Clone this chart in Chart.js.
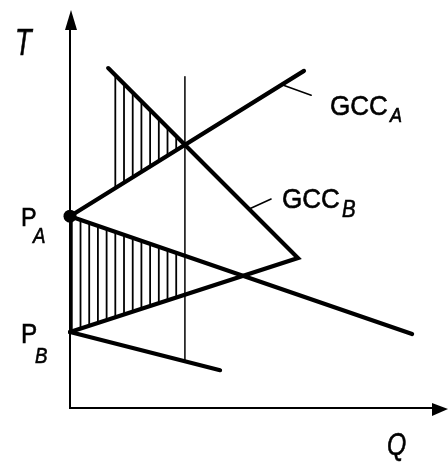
<!DOCTYPE html>
<html>
<head>
<meta charset="utf-8">
<script src="https://cdn.jsdelivr.net/npm/chart.js@4.4.1/dist/chart.umd.min.js"></script>
<style>
  html, body { margin: 0; padding: 0; background: #fff; }
  #wrap { width: 448px; height: 462px; }
</style>
</head>
<body>
<div id="wrap"><canvas id="gcc"></canvas></div>
<script>
"use strict";

// ** Curve data (Q along x, T along y)
const gccAUpperQ = [0, 6.19];
const gccAUpperT = [4.82, 8.47];
const gccALowerQ = [0, 9.05];
const gccALowerT = [4.82, 1.86];
const gccBUpperQ = [0, 6.03, 1.01];
const gccBUpperT = [1.91, 3.77, 8.54];
const gccBLowerQ = [0, 3.97];
const gccBLowerT = [1.91, 0.95];
const pinchQ = [3.04, 3.04];
const pinchT = [1.17, 8.32];
const pointAQ = [0];
const pointAT = [4.82];

// leader lines for the curve labels
const leaderAQ = [5.61, 6.38];
const leaderAT = [8.12, 7.86];
const leaderBQ = [4.74, 5.32];
const leaderBT = [5.0, 5.25];

// ** Helpers

function toXY(qs, ts) {
  return qs.map((q, i) => ({ x: q, y: ts[i] }));
}

function segT(qs, ts, i, q) {
  const k = (q - qs[i]) / (qs[i + 1] - qs[i]);
  return ts[i] + k * (ts[i + 1] - ts[i]);
}

function lineSet(data, width) {
  return {
    data: data,
    showLine: true,
    borderColor: "#000",
    backgroundColor: "#000",
    borderWidth: width,
    pointRadius: 0,
    borderCapStyle: "round",
    borderJoinStyle: "miter",
    tension: 0,
    clip: false,
  };
}

// hatched areas between the curves, left of the pinch line
const hatchRegions = [
  {
    from: gccBUpperQ[2],
    to: pinchQ[0],
    top: (q) => segT(gccBUpperQ, gccBUpperT, 1, q),
    bottom: (q) => segT(gccAUpperQ, gccAUpperT, 0, q),
  },
  {
    from: 0,
    to: pinchQ[0],
    top: (q) => segT(gccALowerQ, gccALowerT, 0, q),
    bottom: (q) => segT(gccBUpperQ, gccBUpperT, 0, q),
  },
];

function drawLabel(ctx, text, px, py, size, italic, sx) {
  ctx.save();
  ctx.translate(px, py);
  ctx.scale(sx, 1);
  ctx.font = `${italic ? "italic " : ""}${size}px "Liberation Sans", Arial, sans-serif`;
  ctx.textBaseline = "alphabetic";
  ctx.fillStyle = "#000";
  ctx.strokeStyle = "#000";
  ctx.lineWidth = 0.6;
  ctx.fillText(text, 0, 0);
  ctx.strokeText(text, 0, 0);
  ctx.restore();
}

const axesPlugin = {
  id: "axes",
  beforeDatasetsDraw(chart) {
    const { ctx, chartArea: a } = chart;
    ctx.save();
    ctx.strokeStyle = "#000";
    ctx.fillStyle = "#000";
    ctx.lineWidth = 2;
    ctx.beginPath();
    ctx.moveTo(a.left, a.top + 18);
    ctx.lineTo(a.left, a.bottom);
    ctx.lineTo(a.right - 14, a.bottom);
    ctx.stroke();
    // arrow heads
    ctx.beginPath();
    ctx.moveTo(a.left + 1, a.top);
    ctx.lineTo(a.left - 5, a.top + 20);
    ctx.lineTo(a.left + 7, a.top + 20);
    ctx.closePath();
    ctx.fill();
    ctx.beginPath();
    ctx.moveTo(a.right, a.bottom + 1);
    ctx.lineTo(a.right - 16, a.bottom - 5);
    ctx.lineTo(a.right - 16, a.bottom + 8);
    ctx.closePath();
    ctx.fill();
    ctx.restore();
  },
};

const hatchPlugin = {
  id: "hatch",
  beforeDatasetsDraw(chart) {
    const { ctx, scales: { x, y } } = chart;
    const step = 8.7;
    ctx.save();
    ctx.strokeStyle = "#000";
    ctx.lineWidth = 1.8;
    hatchRegions.forEach((r) => {
      const left = x.getPixelForValue(r.from);
      const right = x.getPixelForValue(r.to);
      for (let px = right - step; px >= left - 0.6; px -= step) {
        const q = x.getValueForPixel(px);
        ctx.beginPath();
        ctx.moveTo(px, y.getPixelForValue(r.top(q)));
        ctx.lineTo(px, y.getPixelForValue(r.bottom(q)));
        ctx.stroke();
      }
    });
    ctx.restore();
  },
};

const labelPlugin = {
  id: "labels",
  afterDraw(chart) {
    const { ctx } = chart;
    drawLabel(ctx, "T", 15, 55, 36, true, 0.75);
    drawLabel(ctx, "Q", 387, 455, 31, true, 0.8);
    drawLabel(ctx, "P", 21, 226, 26, false, 0.9);
    drawLabel(ctx, "A", 33, 243, 22, true, 0.85);
    drawLabel(ctx, "P", 21, 343, 27, false, 0.9);
    drawLabel(ctx, "B", 35, 363, 22, true, 0.85);
    drawLabel(ctx, "GCC", 330, 115, 28, false, 0.93);
    drawLabel(ctx, "A", 390, 122, 20, true, 0.9);
    drawLabel(ctx, "GCC", 282, 208, 28, false, 0.93);
    drawLabel(ctx, "B", 342, 217, 24, true, 0.85);
  },
};

// ** Chart

const config = {
  type: "scatter",
  data: {
    datasets: [
      lineSet(toXY(pinchQ, pinchT), 1.5),
      lineSet(toXY(leaderAQ, leaderAT), 1.5),
      lineSet(toXY(leaderBQ, leaderBT), 1.5),
      lineSet(toXY(gccAUpperQ, gccAUpperT), 4.2),
      lineSet(toXY(gccALowerQ, gccALowerT), 4.2),
      lineSet(toXY(gccBUpperQ, gccBUpperT), 4.2),
      lineSet(toXY(gccBLowerQ, gccBLowerT), 4.2),
      {
        data: toXY(pointAQ, pointAT),
        showLine: false,
        pointRadius: 6.5,
        pointBackgroundColor: "#000",
        pointBorderWidth: 0,
        clip: false,
      },
    ],
  },
  options: {
    responsive: true,
    maintainAspectRatio: false,
    animation: false,
    layout: {
      autoPadding: false,
      padding: { left: 70, right: 0, top: 10, bottom: 54 },
    },
    plugins: {
      legend: { display: false },
      tooltip: { enabled: false },
    },
    scales: {
      x: { type: "linear", min: 0, max: 10, display: false },
      y: { type: "linear", min: 0, max: 10, display: false },
    },
  },
  plugins: [axesPlugin, hatchPlugin, labelPlugin],
};

const ctx = document.getElementById("gcc").getContext("2d");
new Chart(ctx, config);
</script>
</body>
</html>
